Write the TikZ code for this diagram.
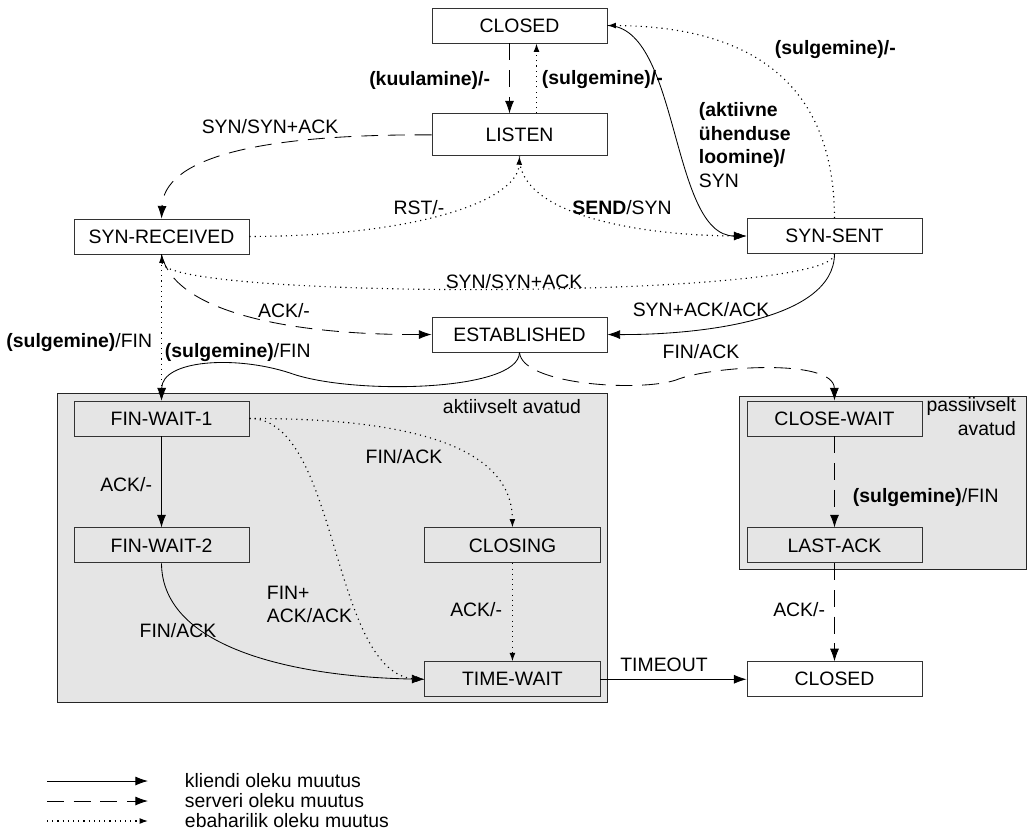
\documentclass[tikz,border=0pt]{standalone}
\usepackage{fontspec}
\setmainfont{Liberation Sans}
\usetikzlibrary{arrows.meta,positioning}

\begin{document}
\begin{tikzpicture}[
    x=0.025cm, y=-0.025cm,
    font=\fontsize{13.8}{16.8}\selectfont,
    olek/.style={rectangle, draw=black!80, line width=0.6pt, minimum width=4.375cm, minimum height=0.875cm, inner sep=0pt},
    grupp/.style={rectangle, draw=black!85, line width=0.6pt, fill=gray!20, inner sep=0pt},
    klient/.style={-{Latex[length=9pt,width=6.4pt]}, line width=0.6pt},
    server/.style={klient, dash pattern=on 12pt off 7pt},
    erand/.style={-{Latex[length=6pt,width=4.2pt]}, line width=0.8pt, dash pattern=on 0.8pt off 2.9pt}
]
\useasboundingbox (0,0) rectangle (1027,831);

% Upper states
\node[olek] (closed) at (519.5,25.5) {CLOSED};
\node[olek, minimum height=1.05cm, below=1.75cm of closed] (listen) {LISTEN};
\node[olek] (synrcvd) at (161.5,236.5) {SYN-RECEIVED};
\node[olek] (synsent) at (834.5,236) {SYN-SENT};
\node[olek] (est) at (519.5,334.5) {ESTABLISHED};

% Actively opened group
\node[grupp, minimum width=13.75cm, minimum height=7.725cm] (aktiiv) at (332,547.5) {};
\node[anchor=east] (aktiivsilt) at (586,407) {aktiivselt avatud};
\node[olek] (fw1) at (161.5,418.5) {FIN-WAIT-1};
\node[olek, below=2.275cm of fw1] (fw2) {FIN-WAIT-2};
\node[olek, right=4.375cm of fw2] (closing) {CLOSING};
\node[olek, below=2.45cm of closing] (tw) {TIME-WAIT};

% Passively opened group
\node[grupp, minimum width=7.175cm, minimum height=4.325cm] (passiiv) at (882.5,482.5) {};
\node[anchor=east, align=right] (passiivsilt) at (1021,416.5) {passiivselt\\avatud};
\node[olek] (cw) at (834.5,418.5) {CLOSE-WAIT};
\node[olek, below=2.275cm of cw] (la) {LAST-ACK};
\node[olek, below=2.45cm of la] (closed2) {CLOSED};

% Transitions from CLOSED and LISTEN
\draw[server] ([xshift=-0.25cm]closed.south) -- ([xshift=-0.25cm]listen.north);
\draw[erand] ([xshift=0.425cm]listen.north) -- ([xshift=0.425cm]closed.south);
\node[anchor=east] (t1) at (495,80) {\textbf{(kuulamine)/-}};
\node[anchor=west] (t2) at (537,80) {\textbf{(sulgemine)/-}};

\draw[klient] (closed.east) .. controls (680,26) and (670,236) .. (synsent.west);
\node[anchor=west, align=left] (t3) at (694,145) {\textbf{(aktiivne}\\\textbf{ühenduse}\\\textbf{loomine)/}\\SYN};
\draw[erand] (synsent.north) .. controls (834,60) and (720,26) .. (closed.east);
\node[anchor=west] (t4) at (770,50) {\textbf{(sulgemine)/-}};

\draw[server] (listen.west) .. controls (250,134) and (164,160) .. (synrcvd.north);
\node (t5) at (270,127) {SYN/SYN+ACK};
\draw[erand] (synrcvd.east) .. controls (420,236) and (518,200) .. (listen.south);
\node (t6) at (419,208) {RST/-};
\draw[erand] (listen.south) .. controls (518,215) and (640,236) .. (synsent.west);
\node (t7) at (622,208) {\textbf{SEND}/SYN};

% Towards ESTABLISHED
\draw[erand] (synsent.south) .. controls (834,300) and (164,300) .. (synrcvd.south);
\node (t8) at (514,282) {SYN/SYN+ACK};
\draw[server] (synrcvd.south) .. controls (175,315) and (300,335) .. (est.west);
\node (t9) at (284,311) {ACK/-};
\draw[klient] (synsent.south) .. controls (834,320) and (700,335) .. (est.east);
\node (t10) at (701,310) {SYN+ACK/ACK};

% Closing
\draw[erand] (synrcvd.south) -- (fw1.north);
\node[anchor=east] (t11) at (157,343) {\textbf{(sulgemine)}/FIN};
\draw[klient] (est.south) .. controls (519,392) and (350,395) .. (290,373)
    .. controls (235,355) and (162,360) .. (fw1.north);
\node[anchor=west] (t12) at (160,353) {\textbf{(sulgemine)}/FIN};
\draw[server] (est.south) .. controls (522,385) and (640,392) .. (676,380)
    .. controls (710,366) and (834,358) .. (cw.north);
\node (t13) at (701,352) {FIN/ACK};

\draw[klient] (fw1) -- (fw2);
\node[anchor=east] (t14) at (157,485) {ACK/-};
\draw[erand] (fw1.east) .. controls (420,418) and (512,450) .. (closing.north);
\node (t15) at (404,457) {FIN/ACK};
\draw[erand] (fw1.east) .. controls (340,418) and (330,677) .. (tw.west);
\node[anchor=west, align=left] (t16) at (262,604.5) {FIN+\\ACK/ACK};
\draw[klient] (fw2.south) .. controls (162,650) and (300,677) .. (tw.west);
\node (t17) at (178,631) {FIN/ACK};
\draw[erand] (closing) -- (tw);
\node[anchor=east] (t18) at (507,610) {ACK/-};
\draw[klient] (tw) -- (closed2);
\node (t19) at (664,665) {TIMEOUT};

\draw[server] (cw) -- (la);
\node[anchor=west] (t20) at (848,498) {\textbf{(sulgemine)}/FIN};
\draw[server] (la) -- (closed2);
\node[anchor=east] (t21) at (830,610) {ACK/-};

% Legend
\coordinate (l1a) at (47,781);
\coordinate (l1b) at (148,781);
\coordinate (l2a) at (47,801);
\coordinate (l2b) at (148,801);
\coordinate (l3a) at (47,821);
\coordinate (l3b) at (148,821);
\draw[klient] (l1a) -- (l1b);
\draw[server] (l2a) -- (l2b);
\draw[erand] (l3a) -- (l3b);
\node[anchor=west] (l1) at (180,781) {kliendi oleku muutus};
\node[anchor=west] (l2) at (180,801) {serveri oleku muutus};
\node[anchor=west] (l3) at (180,821) {ebaharilik oleku muutus};

\end{tikzpicture}
\end{document}
